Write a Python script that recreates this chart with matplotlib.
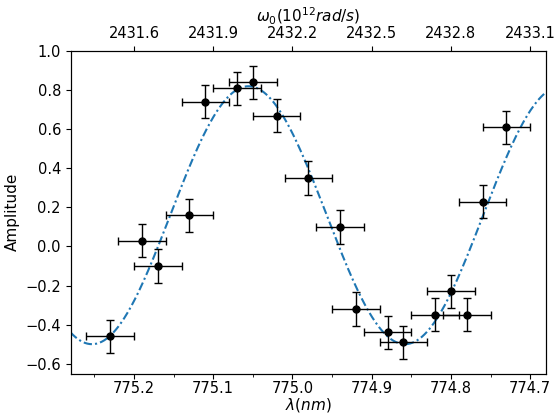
import numpy as np
import matplotlib
matplotlib.use("Agg")
import matplotlib.pyplot as plt
from matplotlib.ticker import MultipleLocator

plt.rcParams['font.size'] = 10.5
plt.rcParams['axes.labelsize'] = 11

# measured points (wavelength in nm, amplitude)
wavelength = [775.23, 775.19, 775.17, 775.13, 775.11, 775.07, 775.05, 775.02, 774.98,
              774.94, 774.92, 774.88, 774.86, 774.82, 774.80, 774.78, 774.76, 774.73]
amplitude = [-0.46, 0.03, -0.10, 0.16, 0.74, 0.81, 0.84, 0.67, 0.35,
             0.10, -0.32, -0.44, -0.49, -0.35, -0.23, -0.35, 0.23, 0.61]
wl_err = 0.03
amp_err = 0.085

# fitted sinusoid parameters
fit_offset = 0.16
fit_amp = 0.66
fit_period = 0.395   # nm
fit_min_at = 774.858  # nm, position of a minimum

xlim = (775.28, 774.68)

fig = plt.figure(figsize=(5.56, 4.15), dpi=100)
ax = fig.add_axes([0.127, 0.1, 0.855, 0.777])

lam = np.linspace(xlim[0], xlim[1], 400)
fit = fit_offset - fit_amp * np.cos(2 * np.pi * (lam - fit_min_at) / fit_period)
ax.plot(lam, fit, color='#1f77b4', lw=1.5, linestyle=(0, (4, 1.5, 1, 1.5)))

ax.errorbar(wavelength, amplitude, xerr=wl_err, yerr=amp_err, fmt='o', color='k',
            ms=5, capsize=3, elinewidth=1)

ax.set_xlim(*xlim)
ax.set_ylim(-0.65, 1.0)
ax.xaxis.set_major_locator(MultipleLocator(0.1))
ax.xaxis.set_minor_locator(MultipleLocator(0.05))
ax.yaxis.set_major_locator(MultipleLocator(0.2))
ax.tick_params(axis='x', which='both', pad=2)
ax.set_xlabel(r'$\lambda(nm)$', labelpad=0)
ax.set_ylabel('Amplitude')

# top axis: angular frequency, ticks line up with the wavelength ticks
ax2 = ax.twiny()
ax2.set_xlim(2431.6 + 3 * (775.2 - xlim[0]), 2431.6 + 3 * (775.2 - xlim[1]))
ax2.set_xticks([2431.6, 2431.9, 2432.2, 2432.5, 2432.8, 2433.1])
ax2.set_xlabel(r'$\omega_0(10^{12}rad/s)$', labelpad=3)

fig.savefig('out.png', dpi=100)
